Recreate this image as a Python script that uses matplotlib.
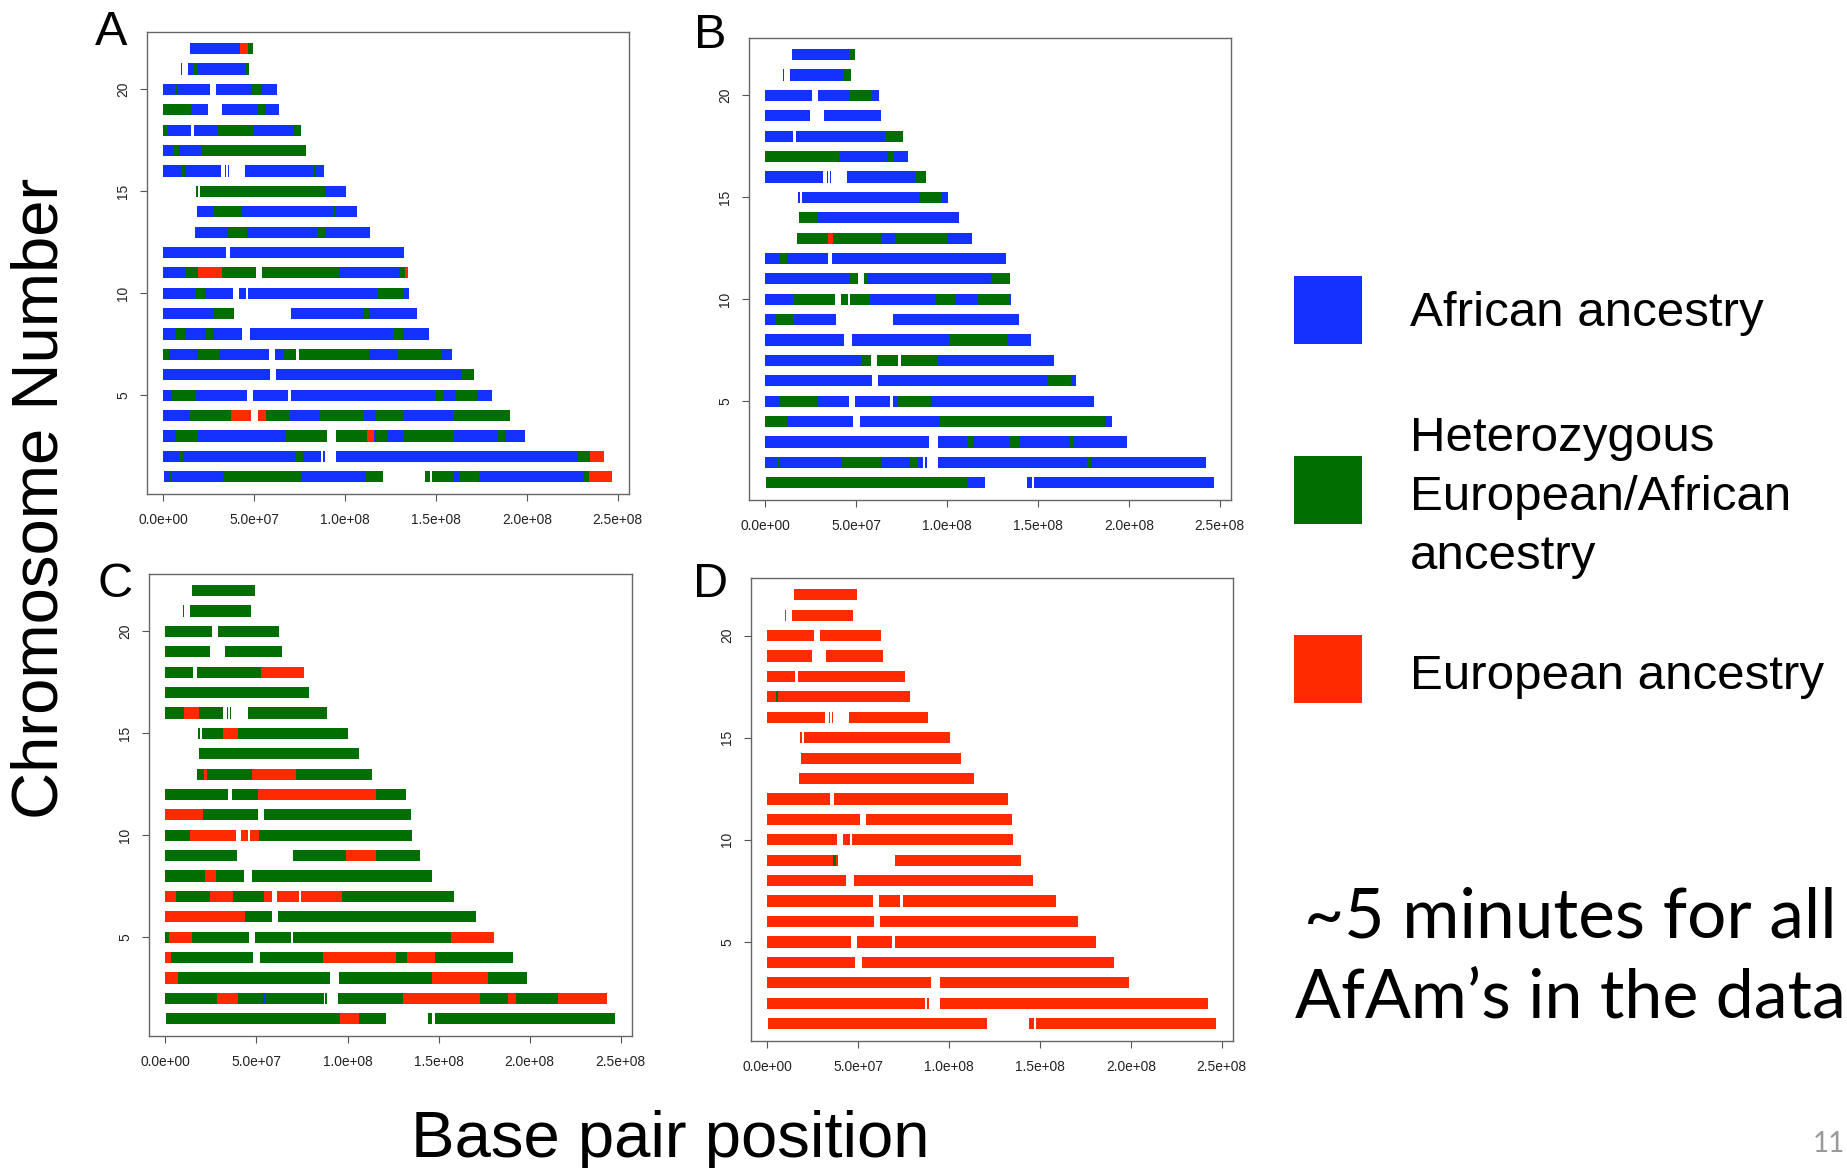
import matplotlib.pyplot as plt
from matplotlib.patches import Rectangle
from matplotlib.ticker import FuncFormatter

plt.rcParams['font.family'] = ['Liberation Sans', 'DejaVu Sans']

W, H = 1847, 1168

# ancestry states: African, heterozygous European/African, European
state_colors = {'A': '#1432ff', 'H': '#006e00', 'E': '#ff2a00'}
legend_labels = [['African ancestry'],
                 ['Heterozygous', 'European/African', 'ancestry'],
                 ['European ancestry']]

# typed stretches of chromosomes 1..22 (Mb), gaps are untyped regions
chrom_pieces = [
    [(0.6, 121.1), (144.2, 146.6), (147.8, 246.9)],
    [(0, 87.0), (87.6, 88.8), (95.0, 242.5)],
    [(0, 90.3), (95.2, 198.8)],
    [(0, 48.2), (52.2, 191.0)],
    [(0, 45.8), (49.3, 68.7), (70.1, 180.7)],
    [(0, 58.6), (61.8, 170.7)],
    [(0, 58.3), (61.5, 73.2), (74.6, 158.7)],
    [(0, 43.4), (47.4, 146.2)],
    [(0, 39.1), (70.0, 139.7)],
    [(0, 38.5), (41.6, 45.6), (46.6, 135.2)],
    [(0, 51.0), (54.4, 134.6)],
    [(0, 34.4), (36.4, 132.2)],
    [(17.6, 113.6)],
    [(18.7, 106.4)],
    [(18.0, 18.8), (20.0, 100.3)],
    [(0, 31.5), (33.8, 34.4), (35.4, 36.0), (45.1, 88.6)],
    [(0, 78.6)],
    [(0, 15.0), (17.1, 76.0)],
    [(0, 24.4), (32.5, 63.8)],
    [(0, 25.6), (28.9, 62.3)],
    [(9.5, 10.3), (13.5, 47.1)],
    [(14.6, 49.3)],
]

# each chromosome: list of (start Mb, state) runs
panel_a = [
    [(0, 'A'), (3.7, 'H'), (4.7, 'A'), (33, 'H'), (76, 'A'), (111.6, 'H'), (159.2, 'A'),
     (162.4, 'H'), (173.5, 'A'), (231.2, 'H'), (234.3, 'E')],
    [(0, 'A'), (8.8, 'H'), (10.9, 'A'), (72.7, 'H'), (77.1, 'A'), (227.6, 'H'), (234.7, 'E')],
    [(0, 'A'), (6.4, 'H'), (19.2, 'A'), (67.4, 'H'), (112.3, 'E'), (115.8, 'A'), (117, 'H'),
     (123.7, 'A'), (132.3, 'H'), (159.9, 'A'), (184.2, 'H'), (187.8, 'A')],
    [(0, 'A'), (14.6, 'H'), (37, 'E'), (56.2, 'H'), (69.5, 'A'), (86, 'H'), (110.5, 'A'),
     (116.8, 'H'), (131.7, 'A'), (160, 'H')],
    [(0, 'A'), (4.7, 'H'), (18.2, 'A'), (149.6, 'H'), (153.7, 'A'), (160.8, 'H'), (172.4, 'A')],
    [(0, 'A'), (163.9, 'H')],
    [(0, 'H'), (3.1, 'A'), (19, 'H'), (30.8, 'A'), (66.5, 'H'), (112.9, 'A'), (128.8, 'H'),
     (153.3, 'A')],
    [(0, 'A'), (7.1, 'H'), (11.8, 'A'), (23.7, 'H'), (27.1, 'A'), (126.5, 'H'), (131.6, 'A')],
    [(0, 'A'), (27.6, 'H'), (60, 'A'), (110.4, 'H'), (112.9, 'A')],
    [(0, 'A'), (17.3, 'H'), (23.1, 'A'), (117.6, 'H'), (132.2, 'A')],
    [(0, 'A'), (11.8, 'H'), (19, 'E'), (32.2, 'H'), (97.1, 'A'), (129.6, 'H'), (132.9, 'E')],
    [(0, 'A')],
    [(0, 'A'), (35.3, 'H'), (45.9, 'A'), (84.9, 'H'), (89, 'A')],
    [(0, 'A'), (27.6, 'H'), (43.5, 'A'), (93.5, 'H'), (95.1, 'A')],
    [(0, 'H'), (88.8, 'A')],
    [(0, 'A'), (10.1, 'H'), (11.9, 'A'), (82.5, 'H'), (84, 'A')],
    [(0, 'A'), (5.5, 'H'), (8.8, 'A'), (21, 'H')],
    [(0, 'H'), (2.4, 'A'), (30.2, 'H'), (49.9, 'A'), (71.9, 'H')],
    [(0, 'H'), (15, 'A'), (52.2, 'H'), (55.9, 'A')],
    [(0, 'A'), (6.4, 'H'), (7.7, 'A'), (48.9, 'H'), (53.7, 'A')],
    [(0, 'A'), (16.5, 'H'), (19.3, 'A'), (45, 'H')],
    [(0, 'A'), (42.2, 'E'), (46.8, 'H')],
]

panel_b = [
    [(0, 'H'), (111.3, 'A')],
    [(0, 'A'), (6.3, 'H'), (7.8, 'A'), (42, 'H'), (63.4, 'A'), (79.5, 'H'), (84.2, 'A'),
     (177, 'H'), (179, 'A')],
    [(0, 'A'), (110.7, 'H'), (114.2, 'A'), (134.8, 'H'), (140.3, 'A'), (167.8, 'H'), (169.9, 'A')],
    [(0, 'H'), (12, 'A'), (95.4, 'H'), (186.8, 'A')],
    [(0, 'A'), (7.3, 'H'), (29, 'A'), (73, 'H'), (90.9, 'A')],
    [(0, 'A'), (155.6, 'H'), (168.4, 'A')],
    [(0, 'A'), (52.6, 'H'), (94.8, 'A')],
    [(0, 'A'), (101.1, 'H'), (133.6, 'A')],
    [(0, 'A'), (6.1, 'H'), (15.5, 'A')],
    [(0, 'A'), (15.1, 'H'), (57.7, 'A'), (94, 'H'), (104.6, 'A'), (117, 'H'), (134.8, 'A')],
    [(0, 'A'), (46.5, 'H'), (56.7, 'A'), (124, 'H')],
    [(0, 'A'), (7.3, 'H'), (11.8, 'A')],
    [(0, 'H'), (34.3, 'E'), (37.3, 'H'), (63.4, 'A'), (71.4, 'H'), (100.5, 'A')],
    [(0, 'H'), (29.2, 'A')],
    [(0, 'A'), (85.2, 'H'), (97.1, 'A')],
    [(0, 'A'), (82.6, 'H')],
    [(0, 'H'), (40.4, 'A'), (66.9, 'H'), (70.6, 'A')],
    [(0, 'A'), (66.5, 'H')],
    [(0, 'A')],
    [(0, 'A'), (46.1, 'H'), (58.7, 'A')],
    [(0, 'A'), (42.8, 'H')],
    [(0, 'A'), (45.9, 'H')],
]

panel_c = [
    [(0, 'H'), (96.1, 'E'), (106.1, 'H')],
    [(0, 'H'), (28.1, 'E'), (39.9, 'H'), (53.7, 'A'), (54.8, 'H'), (130.5, 'E'), (172.6, 'H'),
     (188.1, 'E'), (192.6, 'H'), (215.4, 'E')],
    [(0, 'E'), (6.9, 'H'), (146.4, 'E'), (177.3, 'H')],
    [(0, 'E'), (3.3, 'H'), (86.7, 'E'), (126.4, 'H'), (132.5, 'E'), (148.2, 'H')],
    [(0, 'H'), (2.2, 'E'), (14.5, 'H'), (157, 'E')],
    [(0, 'E'), (43.6, 'H')],
    [(0, 'E'), (5.9, 'H'), (24.6, 'E'), (37.3, 'H'), (54.2, 'E'), (96.9, 'H')],
    [(0, 'H'), (22, 'E'), (27.7, 'H')],
    [(0, 'H'), (99.3, 'E'), (115.8, 'H')],
    [(0, 'H'), (13.4, 'E'), (51.5, 'H')],
    [(0, 'E'), (20.6, 'H')],
    [(0, 'H'), (51.1, 'E'), (115.8, 'H')],
    [(0, 'H'), (21, 'E'), (23, 'H'), (47.8, 'E'), (71.9, 'H')],
    [(0, 'H')],
    [(0, 'H'), (31.8, 'E'), (39.9, 'H')],
    [(0, 'H'), (10, 'E'), (18.5, 'H')],
    [(0, 'H')],
    [(0, 'H'), (52.7, 'E')],
    [(0, 'H')],
    [(0, 'H')],
    [(0, 'H')],
    [(0, 'H')],
]

panel_d = [[(0, 'E')] for _ in range(22)]
panel_d[8] = [(0, 'E'), (36.1, 'H'), (37.5, 'E')]
panel_d[16] = [(0, 'E'), (4.5, 'H'), (5.9, 'E')]

panel_names = ['A', 'B', 'C', 'D']
panel_runs = [panel_a, panel_b, panel_c, panel_d]
# axes boxes in pixels: left, top, right, bottom
panel_boxes = [(147, 32, 629, 494), (749, 38, 1231, 500),
               (149, 574, 632, 1036), (751, 578, 1233, 1041)]
letter_pos = [(95, 45), (694, 48), (97, 597), (693, 597)]

x_ticks = [0, 5e7, 1e8, 1.5e8, 2e8, 2.5e8]
y_ticks = [5, 10, 15, 20]
BAR_H = 0.55


def box_rect(left, top, right, bottom):
    return [left / W, 1 - bottom / H, (right - left) / W, (bottom - top) / H]


def paint(ax, runs):
    for chrom, (pieces, segs) in enumerate(zip(chrom_pieces, runs), start=1):
        starts = [s for s, _ in segs]
        stops = starts[1:] + [300]
        for (s0, state), s1 in zip(segs, stops):
            spans = []
            for p0, p1 in pieces:
                lo, hi = max(s0, p0), min(s1, p1)
                if hi > lo:
                    spans.append((lo * 1e6, (hi - lo) * 1e6))
            if spans:
                ax.broken_barh(spans, (chrom - BAR_H / 2, BAR_H),
                               facecolors=state_colors[state], linewidth=0)


fig = plt.figure(figsize=(W / 100, H / 100), dpi=100)

for name, runs, box, (lx, ly) in zip(panel_names, panel_runs, panel_boxes, letter_pos):
    ax = fig.add_axes(box_rect(*box))
    paint(ax, runs)
    ax.set_xlim(-9e6, 256.2e6)
    ax.set_ylim(0.15, 22.82)
    ax.set_xticks(x_ticks)
    ax.set_yticks(y_ticks)
    ax.xaxis.set_major_formatter(FuncFormatter(lambda v, _: f'{v:.1e}'))
    ax.tick_params(axis='x', length=5, width=0.8, color='#555555', pad=9,
                   labelsize=9.9, labelcolor='#222222')
    ax.tick_params(axis='y', length=5, width=0.8, color='#555555', pad=7,
                   labelsize=9.9, labelcolor='#222222')
    for lbl in ax.get_yticklabels():
        lbl.set_rotation(90)
        lbl.set_va('center')
    for sp in ax.spines.values():
        sp.set_color('#666666')
        sp.set_linewidth(1.0)
    fig.text(lx / W, 1 - ly / H, name, fontsize=35, ha='left', va='baseline')

# legend swatches, one text line per baseline
swatch_tops = [276, 456, 635]
text_baselines = [[326], [451, 510, 569], [689]]
for state, top, bases, lines in zip(['A', 'H', 'E'], swatch_tops, text_baselines,
                                    legend_labels):
    fig.patches.append(Rectangle((1294 / W, 1 - (top + 68) / H), 68 / W, 68 / H,
                                 transform=fig.transFigure, facecolor=state_colors[state],
                                 edgecolor='none'))
    for base, line in zip(bases, lines):
        fig.text(1410 / W, 1 - base / H, line, fontsize=35.5, ha='left', va='baseline')

fig.text(41 / W, 1 - 498 / H, 'Chromosome Number', fontsize=47, rotation=90,
         ha='center', va='center')
fig.text(670 / W, 1 - 1157 / H, 'Base pair position', fontsize=47, ha='center',
         va='baseline')

fig.text(1570 / W, 1 - 938 / H, '~5 minutes for all', fontsize=50, family='Lato',
         ha='center', va='baseline')
fig.text(1570 / W, 1 - 1017 / H, 'AfAm\u2019s in the data', fontsize=49, family='Lato',
         ha='center', va='baseline')
fig.text(1845 / W, 1 - 1152 / H, '11', fontsize=20, family='Lato', color='#999999',
         ha='right', va='baseline')

fig.savefig('out.png', dpi=100)
